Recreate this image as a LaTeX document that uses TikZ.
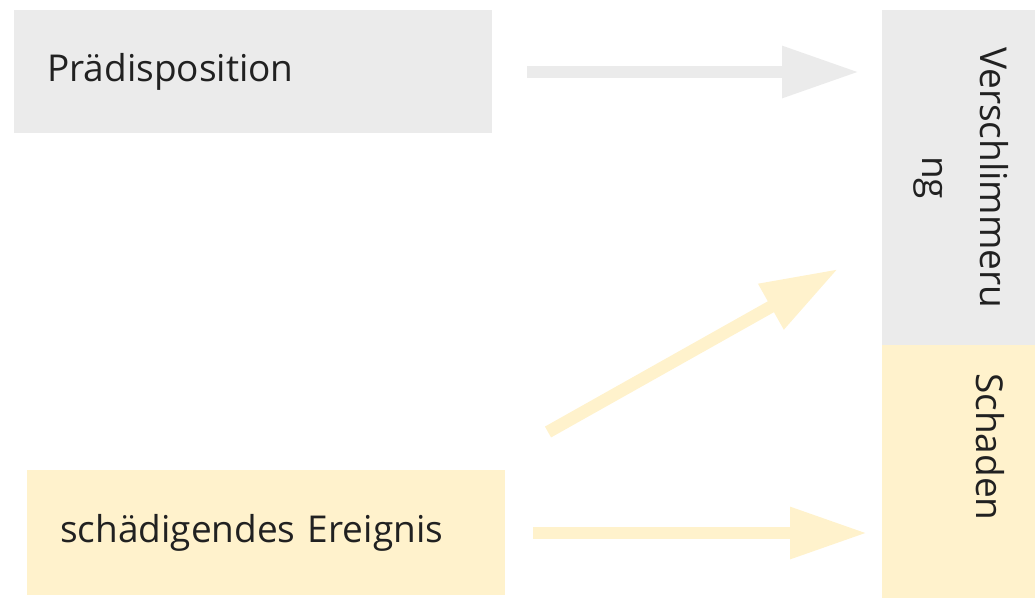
\documentclass[tikz,border=0pt]{standalone}
\usepackage{fontspec}
\setmainfont{Open Sans}
\usetikzlibrary{arrows.meta}
\begin{document}
\begin{tikzpicture}[x=1pt,y=-1pt,
    box/.style={anchor=north west,inner sep=0pt,text=black!87},
    flow/.style={line width=12.5pt,-{Triangle[length=77pt,width=49pt]}}]
        \definecolor{grau}{HTML}{EBEBEB}
        \definecolor{gelb}{HTML}{FFF2CC}
        \useasboundingbox (0,0) rectangle (1035,600);
        % linke Seite
        \node[box,fill=grau,minimum width=478pt,minimum height=123pt,text width=412pt,inner xsep=33pt,align=left,font=\fontsize{37}{44}\selectfont] (praed) at (14,10) {Prädisposition};
        \node[box,fill=gelb,minimum width=478pt,minimum height=125pt,text width=412pt,inner xsep=33pt,align=left,font=\fontsize{37}{44}\selectfont] (ereignis) at (27,470) {schädigendes Ereignis};
        % rechte Spalte
        \node[box,fill=grau,minimum width=153pt,minimum height=335pt] (verschl) at (882,10) {};
        \node[box,fill=gelb,minimum width=153pt,minimum height=253pt] (schaden) at (882,345) {};
        \node[rotate=-90,align=center,text=black!87,font=\fontsize{37}{58}\selectfont] (verschlText) at ([xshift=2pt]verschl.center) {Verschlimmeru\\ng};
        \node[rotate=-90,anchor=south west,inner sep=0pt,text=black!87,font=\fontsize{37}{44}\selectfont] (schadenText) at (976,373) {Schaden};
        % Pfeile
        \coordinate (praedOut) at (527,72);
        \coordinate (verschlIn) at (859,72);
        \coordinate (ereignisOben) at (548,432);
        \coordinate (verschlUnten) at (838,269);
        \coordinate (ereignisOut) at (533,533);
        \coordinate (schadenIn) at (867,533);
        \draw[flow,grau] (praedOut) -- (verschlIn);
        \draw[flow,gelb] (ereignisOben) -- (verschlUnten);
        \draw[flow,gelb] (ereignisOut) -- (schadenIn);
    \end{tikzpicture}
\end{document}
